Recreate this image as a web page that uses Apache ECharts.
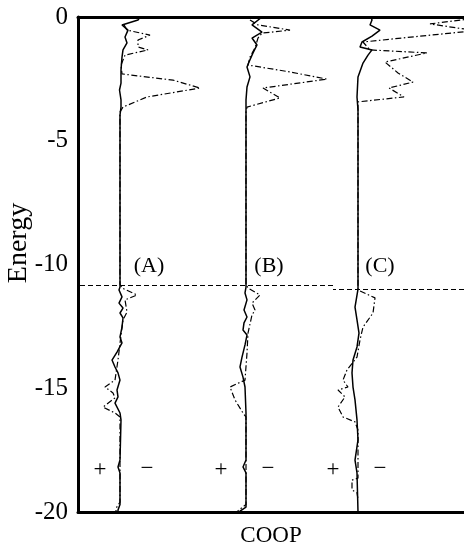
<!DOCTYPE html>
<html>
<head>
<meta charset="utf-8">
<script src="https://cdn.jsdelivr.net/npm/echarts@6/dist/echarts.min.js"></script>
<style>
  html, body { margin: 0; padding: 0; background: #fff; }
  #chart { width: 464px; height: 548px; }
</style>
</head>
<body>
<div id="chart"></div>
<script>
// COOP curves for the three structures (A), (B), (C).
// Each point is [COOP, Energy]; positive COOP (bonding) is drawn to the left.
const energyTicks = [0, -5, -10, -15, -20];
const panelNames = ['(A)', '(B)', '(C)'];
const fermiLevels = [-10.83, -10.83, -10.99];

const solidA = [
  [-0.20, 0], [-0.18, -0.12], [-0.02, -0.32], [-0.08, -0.53], [-0.05, -0.81],
  [-0.07, -1.05], [-0.03, -1.33], [-0.02, -1.62], [-0.01, -2.14], [-0.01, -2.67],
  [0.005, -2.95], [-0.01, -3.35], [-0.01, -3.64], [0, -3.96], [0, -7.0],
  [0, -10.91], [0.01, -11.03], [-0.02, -11.31], [0.01, -11.56], [-0.03, -11.76],
  [0, -11.96], [-0.03, -12.16], [-0.02, -12.53], [0, -12.93], [-0.02, -13.17],
  [0.03, -13.54], [0.08, -13.86], [0.05, -14.14], [0.02, -14.38], [0, -14.67],
  [0.03, -15.07], [0.02, -15.35], [0.05, -15.6], [0, -16.0], [-0.01, -16.28],
  [0, -17.9], [0.02, -18.18], [0, -18.42], [0, -19.7], [0.02, -19.92], [0.02, -20]
];
const dashA = [
  [-0.04, -0.32], [-0.07, -0.53], [-0.30, -0.73], [-0.18, -0.93], [-0.18, -1.21],
  [-0.28, -1.33], [-0.05, -1.54], [-0.01, -1.94], [-0.02, -2.30], [-0.53, -2.55],
  [-0.80, -2.87], [-0.27, -3.23], [-0.03, -3.64], [0, -3.84],
  [0, -10.8], [-0.02, -10.95], [-0.17, -11.23], [-0.05, -11.43], [-0.07, -11.92],
  [-0.03, -12.24], [-0.01, -12.85], [0.02, -13.86], [0.05, -14.67], [0.15, -14.95],
  [0.07, -15.19], [0.05, -15.39], [0.17, -15.76], [0.05, -16.0], [0, -16.16],
  [0, -19.6], [0.04, -19.85], [0.04, -20]
];

const solidB = [
  [-0.16, 0], [-0.14, -0.04], [-0.06, -0.32], [-0.16, -0.61], [-0.06, -0.85],
  [-0.11, -1.13], [-0.07, -1.45], [-0.03, -1.82], [-0.01, -2.02], [-0.04, -2.42],
  [-0.01, -2.83], [0, -3.35], [0, -7.0],
  [0, -10.91], [0.01, -11.15], [-0.01, -11.43], [0.02, -11.84], [-0.01, -12.12],
  [0.02, -12.36], [0.03, -12.65], [-0.01, -12.85], [0.01, -13.25], [0.04, -13.74],
  [0.06, -14.14], [0.03, -14.55], [0.01, -14.95], [0, -16.0], [0, -17.9],
  [0.03, -18.18], [0, -18.42], [0, -19.8], [0.06, -19.96], [0.06, -20]
];
const dashB = [
  [-0.04, -0.12], [-0.12, -0.32], [-0.44, -0.53], [-0.16, -0.65], [-0.12, -0.85],
  [-0.09, -1.25], [-0.04, -1.62], [-0.02, -1.94], [-0.44, -2.22], [-0.81, -2.51],
  [-0.17, -2.87], [-0.34, -3.27], [-0.01, -3.64], [0, -3.84],
  [0, -10.8], [-0.02, -10.95], [-0.14, -11.23], [-0.06, -11.56], [-0.09, -11.84],
  [-0.06, -12.04], [-0.02, -12.77], [-0.01, -13.58], [0.01, -14.67], [0.16, -14.95],
  [0.11, -15.47], [0.03, -16.0], [0, -16.16], [0, -19.7], [0.08, -19.95], [0.08, -20]
];

const solidC = [
  [-0.13, 0], [-0.14, -0.12], [-0.12, -0.32], [-0.22, -0.53], [-0.14, -0.77],
  [-0.04, -1.01], [-0.02, -1.21], [-0.14, -1.33], [-0.10, -1.54], [-0.05, -1.86],
  [0, -2.42], [0.01, -3.23], [0, -3.76], [0, -7.0],
  [0, -10.99], [0.03, -11.72], [0.01, -12.24], [-0.01, -12.77], [0.01, -13.33],
  [0.05, -13.86], [0.06, -14.38], [0.05, -14.95], [0.03, -15.47], [0.01, -16.28],
  [0, -17.09], [0.03, -17.9], [0.01, -18.42], [0, -20]
];
const dashC = [
  [-1.27, 0], [-0.72, -0.28], [-1.17, -0.55], [-0.05, -1.01], [-0.12, -1.33],
  [-0.69, -1.45], [-0.27, -1.82], [-0.40, -2.26], [-0.55, -2.63], [-0.31, -2.87],
  [-0.46, -3.23], [0, -3.43],
  [0, -11.03], [-0.17, -11.35], [-0.15, -11.96], [-0.05, -12.53], [-0.02, -13.05],
  [0.01, -13.74], [0.11, -14.26], [0.15, -14.67], [0.10, -14.95], [0.20, -15.07],
  [0.13, -15.35], [0.20, -15.76], [0.15, -16.16], [0.03, -16.36], [0, -16.69],
  [0, -18.63], [0.06, -18.71], [0.06, -19.11], [0.01, -19.23], [0, -19.5]
];

const serif = '"Liberation Serif", "DejaVu Serif", serif';
const black = '#000';

const chart = echarts.init(document.getElementById('chart'));

const yBase = {
  type: 'value', min: -20, max: 0, interval: 5,
  axisLine: { show: false }, axisTick: { show: false },
  axisLabel: { show: false }, splitLine: { show: false }
};

function xAxisFor(grid, min, max, extra) {
  return Object.assign({
    type: 'value', gridIndex: grid, min: min, max: max, inverse: true,
    axisLine: { show: false }, axisTick: { show: false },
    axisLabel: { show: false }, splitLine: { show: false }
  }, extra || {});
}

function curve(name, data, axis, dashed, extra) {
  return Object.assign({
    name: name, type: 'line', data: data,
    xAxisIndex: axis, yAxisIndex: axis,
    showSymbol: false, symbol: 'none', smooth: false, silent: true,
    lineStyle: dashed
      ? { color: black, width: 1.2, type: [6, 2.5, 1.5, 2.5] }
      : { color: black, width: 1.5 }
  }, extra || {});
}

function fermi(value) {
  return {
    silent: true, symbol: 'none', label: { show: false },
    lineStyle: { color: black, width: 1, type: [5, 3] },
    data: [{ yAxis: value }]
  };
}

const textStyle = (text, size) => ({
  text: text, font: size + 'px ' + serif, fill: black,
  align: 'center', verticalAlign: 'middle'
});

// All three panels share the same frame height; panel B and C grids
// split the width at the step in the Fermi level line.
const frame = { top: 17, bottom: 36, outerBoundsMode: 'none', containLabel: false };

chart.setOption({
  animation: false,
  backgroundColor: '#fff',
  grid: [
    Object.assign({ left: 78, right: 0 }, frame),
    Object.assign({ left: 78, width: 255 }, frame),
    Object.assign({ left: 333, right: 0 }, frame)
  ],
  xAxis: [
    xAxisFor(0, -3.44, 0.42, {
      position: 'bottom',
      axisLine: { show: true, onZero: false, lineStyle: { color: black, width: 3 } },
      name: 'COOP', nameLocation: 'middle', nameGap: 12,
      nameTextStyle: { fontFamily: serif, fontSize: 23, color: black }
    }),
    xAxisFor(1, -0.87, 1.68),
    xAxisFor(2, -1.06, 0.25),
    xAxisFor(0, -3.44, 0.42, {
      position: 'top',
      axisLine: { show: true, onZero: false, lineStyle: { color: black, width: 3 } }
    })
  ],
  yAxis: [
    Object.assign({}, yBase, {
      gridIndex: 0,
      axisLine: { show: true, onZero: false, lineStyle: { color: black, width: 3 } },
      axisLabel: {
        show: true, margin: 10, fontFamily: serif, fontSize: 25, color: black,
        formatter: v => energyTicks.indexOf(v) >= 0 ? String(v) : ''
      }
    }),
    Object.assign({}, yBase, { gridIndex: 1 }),
    Object.assign({}, yBase, { gridIndex: 2 })
  ],
  series: [
    curve('A total', solidA, 0, false),
    curve('A partial', dashA, 0, true),
    curve('B total', solidB, 1, false, { markLine: fermi(fermiLevels[1]) }),
    curve('B partial', dashB, 1, true),
    curve('C total', solidC, 2, false, { markLine: fermi(fermiLevels[2]) }),
    curve('C partial', dashC, 2, true)
  ],
  graphic: [
    { type: 'text', x: 19, y: 243, rotation: Math.PI / 2, style: textStyle('Energy', 28) },
    { type: 'text', x: 149, y: 266, style: textStyle(panelNames[0], 22) },
    { type: 'text', x: 269, y: 266, style: textStyle(panelNames[1], 22) },
    { type: 'text', x: 380, y: 266, style: textStyle(panelNames[2], 22) },
    ...[[100, 147], [221, 268], [333, 380]].flatMap(([p, m]) => [
      { type: 'text', x: p, y: 470, style: textStyle('+', 23) },
      { type: 'text', x: m, y: 469, style: textStyle('\u2212', 23) }
    ])
  ]
});
</script>
</body>
</html>
